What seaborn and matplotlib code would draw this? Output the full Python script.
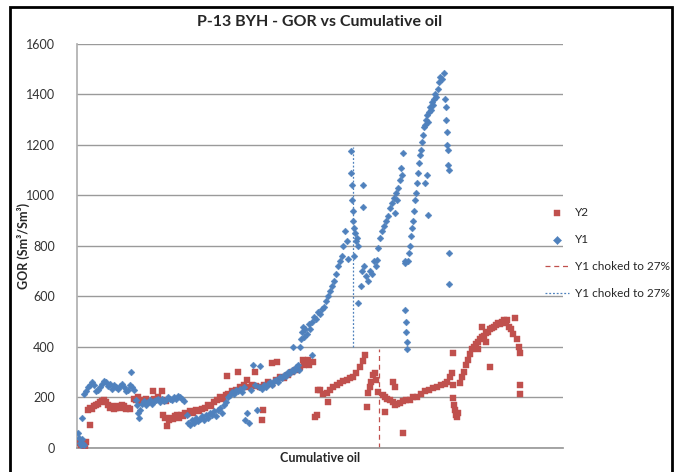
#!/usr/bin/env python
# -*- coding: utf-8 -*-

import pandas as pd
import seaborn
import matplotlib
matplotlib.use("Agg")
import matplotlib.pyplot as plt
from matplotlib.patches import Rectangle

# x is cumulative oil in arbitrary units (no tick labels on the chart)
y1_x = [1, 2, 3, 4, 5, 6, 7, 5,
        7, 9, 11, 13, 15, 17, 19, 21, 23, 25, 27, 29, 31, 33, 35, 37, 39, 41, 43, 45, 47, 49, 51, 53, 55, 54, 57,
        59, 60, 61, 62, 63, 65, 67, 69, 71, 73, 75, 77, 79, 81, 83, 85, 87, 89, 91, 93, 95, 97, 99, 101, 103, 105, 107,
        110, 111, 113, 115, 117, 119, 121, 123, 125, 127, 129, 131, 133, 135, 137, 139, 141, 143, 145, 147, 149, 151,
        153, 155, 157, 159, 161, 163, 165, 167, 168, 170, 172, 174, 176, 178, 180, 182, 183, 185, 187, 189, 191, 193,
        195, 197, 199, 201, 203, 205, 207, 209, 211, 213, 215, 217, 219, 221, 222, 216, 235,
        223, 224, 225, 226, 227, 228, 230, 232, 233, 235, 237, 239, 241, 243, 245, 247, 249, 251, 253, 255, 257, 259,
        261, 263, 265, 266, 268, 270, 271,
        274, 274, 275, 275, 276, 277, 278, 279, 280, 281, 276, 277,
        281, 286, 286, 284, 285, 287, 289, 291, 293, 295, 297, 299, 300,
        301, 303, 305, 307, 309, 311, 313, 315, 317, 319, 321, 323, 326, 320, 318, 324, 325,
        328, 328, 328, 329, 329, 330, 330,
        331, 332, 333, 334, 335, 336, 337, 338, 339, 340, 341, 342, 343, 344, 345, 346, 347, 348, 349, 350, 351, 352,
        353, 354, 355, 356, 357, 358, 359, 361, 362, 363, 365, 367, 368, 369, 369, 370, 370, 371, 371, 372, 372, 372,
        351, 350, 348]
y1_gor = [60, 40, 20, 10, 35, 15, 10, 120,
          215, 225, 240, 250, 260, 250, 225, 230, 240, 255, 265, 260, 245, 255, 235, 250, 240, 235, 245, 255, 240, 225, 230, 250, 240, 300, 230,
          190, 170, 140, 120, 150, 175, 185, 170, 180, 190, 175, 185, 190, 195, 180, 195, 185, 190, 200, 195, 190, 200, 195, 205, 200, 195, 185,
          130, 100, 90, 110, 100, 120, 105, 115, 125, 110, 130, 120, 140, 130, 145, 125, 150, 160, 140, 170, 180, 200,
          210, 220, 215, 230, 225, 235, 220, 240, 110, 140, 100, 230, 330, 250, 150, 240, 325, 235, 250, 240, 255, 260,
          250, 265, 270, 260, 280, 275, 290, 285, 300, 295, 310, 305, 320, 330, 310, 400, 368,
          400, 430, 460, 480, 440, 470, 450, 490, 470, 500, 520, 510, 540, 530, 550, 560, 580, 600, 620, 640, 660, 690,
          720, 740, 760, 800, 860, 820, 750,
          1176, 1090, 1040, 980, 940, 870, 850, 820, 830, 800, 900, 760,
          575, 1040, 955, 640, 700, 720, 680, 660, 700, 690, 740, 720, 745,
          790, 830, 860, 880, 900, 920, 950, 970, 990, 1010, 1030, 1060, 1168, 980, 930, 1110, 1080,
          732, 740, 546, 500, 460, 420, 390,
          740, 770, 800, 840, 870, 900, 940, 980, 1010, 1050, 1090, 1130, 1160, 1180, 1210, 1240, 1270, 1280, 1300, 1320, 1290, 1330,
          1350, 1340, 1370, 1360, 1380, 1400, 1390, 1420, 1450, 1470, 1460, 1485, 1380, 1350, 1300, 1250, 1200, 1180, 1120, 1100, 772, 650,
          922, 1080, 1050]

y2_x = [3, 4, 6, 8, 9, 13,
        11, 13, 15, 17, 19, 21, 23, 25, 27, 29, 31, 33, 35, 37, 39, 41, 43, 45, 47, 49, 51, 53,
        57, 59, 61, 63, 65, 69, 73, 76, 77, 81, 85, 89,
        86, 88, 90, 92, 94, 96, 98, 100, 102, 104, 106, 108, 110, 113, 116, 119, 122, 125, 128, 131, 134, 137, 140,
        143, 146, 149, 85,
        151, 155, 159, 163, 167, 171, 175, 179, 183, 187, 191, 195, 199, 203, 207, 211, 215, 219, 223, 227, 229, 231,
        150, 161, 185, 186, 195, 200, 238, 170, 178,
        226, 232, 236, 240, 241, 243, 246, 250, 253, 256, 260, 263, 266, 270, 273, 276, 279, 283, 286, 288, 251,
        290, 291, 293, 294, 296, 298, 299, 301,
        306, 308, 310, 313, 316, 318, 320, 323, 326, 329, 333, 336, 340, 344, 348, 352, 356, 360, 364, 368, 370, 373, 375,
        308, 316, 318, 326, 376, 376,
        376, 377, 378, 379, 380, 381,
        383, 385, 387, 389, 391, 393, 395, 397, 399, 401, 403, 405, 407, 409, 411, 413, 415, 417, 419, 421, 423, 425,
        427, 429, 430, 432, 434, 436, 438, 440, 442, 443, 413, 443, 443, 405, 409, 401]
y2_gor = [20, 10, 15, 5, 25, 90,
          150, 160, 155, 165, 170, 175, 180, 185, 190, 180, 170, 160, 165, 155, 160, 165, 160, 170, 165, 155, 160, 155,
          195, 190, 200, 185, 190, 195, 180, 225, 195, 200, 190, 185,
          130, 120, 85, 110, 120, 115, 125, 130, 120, 130, 125, 140, 135, 145, 140, 150, 145, 155, 160, 170, 165, 180, 190,
          200, 195, 210, 225,
          215, 225, 230, 240, 250, 240, 250, 245, 240, 250, 260, 255, 270, 280, 275, 290, 300, 310, 320, 330, 340, 350,
          285, 300, 110, 150, 335, 340, 123, 270, 300,
          350, 330, 340, 130, 230, 230, 215, 218, 230, 242, 250, 257, 265, 270, 275, 282, 295, 320, 345, 368, 182,
          162, 217, 240, 260, 290, 297, 270, 220,
          210, 200, 195, 190, 180, 170, 175, 178, 185, 190, 190, 200, 202, 215, 225, 230, 238, 242, 250, 255, 262, 280, 297,
          143, 262, 242, 60, 376, 250,
          198, 170, 150, 130, 123, 140,
          257, 280, 300, 330, 350, 370, 390, 400, 410, 420, 430, 440, 445, 455, 460, 470, 475, 480, 485, 495, 490, 500,
          505, 495, 507, 480, 470, 450, 514, 430, 400, 376, 320, 250, 214, 480, 420, 390]

# choke markers: vertical lines
choke_y2_x = [302, 302]
choke_y2_gor = [0, 390]
choke_y1_x = [276, 276]
choke_y1_gor = [400, 1190]

y1_df = pd.DataFrame(data={"cum_oil": y1_x, "gor": y1_gor})
y2_df = pd.DataFrame(data={"cum_oil": y2_x, "gor": y2_gor})

seaborn.set_theme(style="white")
plt.rcParams["font.family"] = ["Lato", "DejaVu Sans"]

fig = plt.figure(figsize=(6.75, 4.72), dpi=100)
ax = fig.add_axes([0.114, 0.051, 0.72, 0.856])

red = "#C0504D"
blue = "#4F81BD"

seaborn.scatterplot(x="cum_oil", y="gor", data=y2_df, ax=ax, marker="s", s=13,
                    color=red, edgecolor=red, linewidth=0.3, label="Y2", zorder=3)
seaborn.scatterplot(x="cum_oil", y="gor", data=y1_df, ax=ax, marker="D", s=12,
                    color=blue, edgecolor=blue, linewidth=0.3, label="Y1", zorder=3)
ax.plot(choke_y2_x, choke_y2_gor, color=red, linestyle=(0, (4, 3)), linewidth=0.9,
        label="Y1 choked to 27%", zorder=2)
ax.plot(choke_y1_x, choke_y1_gor, color=blue, linestyle=(0, (1.5, 1.5)), linewidth=0.9,
        label="Y1 choked to 27%", zorder=2)
if ax.get_legend() is not None:
    ax.get_legend().remove()

ax.set_xlim(0, 486)
ax.set_ylim(0, 1600)
ax.set_yticks(range(0, 1601, 200))
ax.set_xticks([])
ax.yaxis.grid(True, color="#9a9a9a", linewidth=1)
ax.set_axisbelow(True)
for side in ["top", "right"]:
    ax.spines[side].set_visible(False)
ax.spines["left"].set_color("#b0b0b0")
ax.spines["bottom"].set_color("#9a9a9a")
ax.tick_params(axis="y", labelsize=9, colors="#333333", length=0, pad=16)

ax.set_title("P-13 BYH - GOR vs Cumulative oil", fontsize=11.5, fontweight="bold", pad=13)
ax.set_xlabel("Cumulative oil", fontsize=9, fontweight="bold", labelpad=3)
ax.set_ylabel("GOR (Sm³/Sm³)", fontsize=9, fontweight="bold")
ax.yaxis.set_label_coords(-0.097, 0.5)

handles, labels = ax.get_legend_handles_labels()
fig.legend(handles, labels, loc="center left", bbox_to_anchor=(545 / 675, 1 - 253 / 472),
           bbox_transform=fig.transFigure, frameon=False, fontsize=8.5,
           labelspacing=1.35, handlelength=2.0, handletextpad=0.5, borderaxespad=0,
           borderpad=0, markerscale=1.2)

fig.patches.append(Rectangle((10 / 675, -0.05), 662 / 675, 1 - 7 / 472 + 0.05,
                             transform=fig.transFigure, fill=False,
                             edgecolor="black", linewidth=2))

plt.savefig("out.png", dpi=100)
